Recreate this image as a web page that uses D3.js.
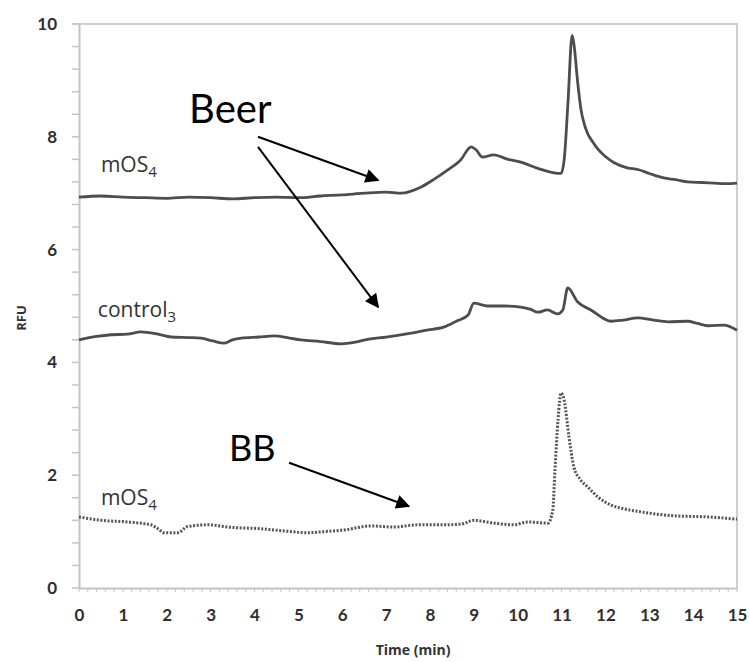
<!DOCTYPE html>
<html>
<head>
<meta charset="utf-8">
<script src="https://cdn.jsdelivr.net/npm/d3@7"></script>
<style>
  body { margin: 0; background: #fff; }
  svg { display: block; }
</style>
</head>
<body>
<svg id="chart"></svg>
<script>
// trace data (time in min, RFU)
var beerMosTime = [0,0.5,1,1.5,2,2.5,3,3.5,4,4.5,5,5.5,6,6.5,7,7.34,7.8,8.1,8.4,8.7,8.94,9.05,9.2,9.45,9.78,10.07,10.46,10.83,10.99,11.06,11.15,11.24,11.28,11.37,11.44,11.52,11.6,11.72,11.83,12.0,12.2,12.5,12.74,13.0,13.33,13.6,13.88,14.2,14.47,14.75,15];
var beerMosRfu  = [6.93,6.95,6.93,6.92,6.91,6.93,6.92,6.9,6.92,6.93,6.92,6.95,6.97,7.0,7.02,7.0,7.11,7.25,7.41,7.59,7.82,7.77,7.64,7.68,7.6,7.55,7.44,7.36,7.35,7.59,8.65,9.8,9.66,8.95,8.5,8.22,8.05,7.9,7.78,7.65,7.54,7.45,7.42,7.35,7.27,7.24,7.2,7.19,7.18,7.17,7.18];

var controlTime = [0,0.4,0.73,1.1,1.41,1.8,2.1,2.5,2.78,3.05,3.3,3.5,3.7,4.1,4.45,4.8,5.06,5.5,5.97,6.3,6.58,7.0,7.57,7.9,8.33,8.6,8.87,9.0,9.32,9.69,10.07,10.3,10.46,10.68,10.91,11.03,11.14,11.37,11.67,12.13,12.4,12.74,13.1,13.43,13.88,14.1,14.34,14.7,15];
var controlRfu  = [4.4,4.46,4.49,4.5,4.54,4.5,4.45,4.44,4.43,4.38,4.34,4.4,4.43,4.45,4.47,4.43,4.4,4.37,4.33,4.36,4.41,4.45,4.52,4.57,4.63,4.73,4.84,5.05,5.0,5.0,4.98,4.94,4.89,4.93,4.86,4.93,5.32,5.07,4.93,4.73,4.75,4.79,4.75,4.72,4.73,4.69,4.65,4.66,4.57];

var bbMosTime = [0,0.5,1.1,1.64,1.8,1.94,2.25,2.48,2.94,3.4,4.15,4.7,5.2,5.6,6.05,6.66,7.18,7.72,8.2,8.7,9.0,9.46,9.92,10.23,10.69,10.8,10.85,10.92,10.99,11.06,11.17,11.28,11.42,11.6,11.85,12.13,12.45,12.81,13.56,14.34,15];
var bbMosRfu  = [1.26,1.2,1.17,1.12,1.05,0.98,0.98,1.09,1.12,1.08,1.05,1.01,0.98,1.0,1.03,1.1,1.08,1.12,1.12,1.13,1.2,1.15,1.12,1.17,1.15,1.38,2.09,2.98,3.46,3.33,2.68,2.15,1.93,1.79,1.6,1.47,1.4,1.35,1.28,1.26,1.22];

var xTicks = [0,1,2,3,4,5,6,7,8,9,10,11,12,13,14,15];
var yTicks = [0,2,4,6,8,10];

// set the dimensions and margins of the graph
var margin = {top: 24, right: 13, bottom: 74, left: 79},
    width = 750 - margin.left - margin.right,
    height = 662 - margin.top - margin.bottom;

var svg = d3.select("#chart")
    .attr("width", 750)
    .attr("height", 662)
  .append("g")
    .attr("transform", "translate(" + margin.left + "," + margin.top + ")");

var x = d3.scaleLinear().domain([0, 15]).range([0, width]);
var y = d3.scaleLinear().domain([0, 10]).range([height, 0]);

// arrow head
svg.append("defs").append("marker")
    .attr("id", "head")
    .attr("viewBox", "0 0 10 10")
    .attr("refX", 9).attr("refY", 5)
    .attr("markerWidth", 8).attr("markerHeight", 7)
    .attr("markerUnits", "strokeWidth")
    .attr("orient", "auto")
  .append("path")
    .attr("d", "M0,0L10,5L0,10z")
    .attr("fill", "#000");

// frame (top and right)
svg.append("path")
    .attr("d", "M-7,0H" + width + "V" + height)
    .attr("fill", "none")
    .attr("stroke", "#d0d0d0")
    .attr("stroke-width", 2);

// minor ticks
svg.append("g")
  .selectAll("line")
  .data(d3.range(0, 10.01, 0.4))
  .enter().append("line")
    .attr("x1", -7).attr("x2", 0)
    .attr("y1", function(d) { return y(d); })
    .attr("y2", function(d) { return y(d); })
    .attr("stroke", "#c4c4c4").attr("stroke-width", 1.5);

svg.append("g")
  .selectAll("line")
  .data(d3.range(0, 15.01, 0.2))
  .enter().append("line")
    .attr("x1", function(d) { return x(d); })
    .attr("x2", function(d) { return x(d); })
    .attr("y1", height).attr("y2", height + 4)
    .attr("stroke", "#c4c4c4").attr("stroke-width", 1);

// Y axis
var yAxis = svg.append("g")
    .call(d3.axisLeft(y).tickValues(yTicks).tickSize(0).tickPadding(22));
yAxis.select(".domain").attr("stroke", "#c4c4c4").attr("stroke-width", 2);
yAxis.selectAll("text")
    .attr("font-family", "Lato, sans-serif")
    .attr("font-weight", "bold")
    .attr("font-size", 17)
    .attr("fill", "#2e2e2e");

// X axis
var xAxis = svg.append("g")
    .attr("transform", "translate(0," + height + ")")
    .call(d3.axisBottom(x).tickValues(xTicks).tickSize(0).tickPadding(21));
xAxis.select(".domain").attr("stroke", "#c4c4c4").attr("stroke-width", 2);
xAxis.selectAll("text")
    .attr("font-family", "Lato, sans-serif")
    .attr("font-weight", "bold")
    .attr("font-size", 17)
    .attr("fill", "#2e2e2e");

// axis titles
svg.append("text")
    .attr("x", width / 2 + 5)
    .attr("y", height + 67)
    .attr("text-anchor", "middle")
    .attr("font-family", "'Open Sans', sans-serif")
    .attr("font-weight", "bold")
    .attr("font-size", 14)
    .attr("fill", "#333")
    .text("Time (min)");

svg.append("text")
    .attr("transform", "translate(-53," + (height / 2 + 12) + ") rotate(-90)")
    .attr("text-anchor", "middle")
    .attr("font-family", "'Open Sans', sans-serif")
    .attr("font-weight", "bold")
    .attr("font-size", 13)
    .attr("fill", "#333")
    .text("RFU");

// traces
var line = d3.line()
    .curve(d3.curveMonotoneX)
    .x(function(d) { return x(d[0]); })
    .y(function(d) { return y(d[1]); });

function pairs(ts, vs) { return ts.map(function(t, i) { return [t, vs[i]]; }); }

svg.append("path")
    .datum(pairs(beerMosTime, beerMosRfu))
    .attr("d", line)
    .attr("fill", "none")
    .attr("stroke", "#4d4d4d")
    .attr("stroke-width", 2.8)
    .attr("stroke-linejoin", "round");

svg.append("path")
    .datum(pairs(controlTime, controlRfu))
    .attr("d", line)
    .attr("fill", "none")
    .attr("stroke", "#4d4d4d")
    .attr("stroke-width", 2.8)
    .attr("stroke-linejoin", "round");

svg.append("path")
    .datum(pairs(bbMosTime, bbMosRfu))
    .attr("d", line)
    .attr("fill", "none")
    .attr("stroke", "#555")
    .attr("stroke-width", 3)
    .attr("stroke-dasharray", "2,1.6");

// trace labels
var traceLabels = [
  {t: 0.5, v: 7.38, main: "mOS", sub: "4"},
  {t: 0.43, v: 4.8, main: "control", sub: "3"},
  {t: 0.5, v: 1.47, main: "mOS", sub: "4"}
];
var lab = svg.append("g").selectAll("text")
  .data(traceLabels)
  .enter().append("text")
    .attr("x", function(d) { return x(d.t); })
    .attr("y", function(d) { return y(d.v); })
    .attr("font-family", "'Open Sans', sans-serif")
    .attr("font-size", 21)
    .attr("fill", "#333");
lab.append("tspan").text(function(d) { return d.main; });
lab.append("tspan")
    .attr("dy", 5)
    .attr("font-size", 15)
    .text(function(d) { return d.sub; });

// annotations
var notes = [
  {t: 2.51, v: 8.24, text: "Beer", size: 40},
  {t: 3.42, v: 2.25, text: "BB", size: 36}
];
svg.append("g").selectAll("text")
  .data(notes)
  .enter().append("text")
    .attr("x", function(d) { return x(d.t); })
    .attr("y", function(d) { return y(d.v); })
    .attr("font-family", "Lato, sans-serif")
    .attr("font-size", function(d) { return d.size; })
    .attr("fill", "#000")
    .text(function(d) { return d.text; });

var arrows = [
  {t0: 4.08, v0: 8.0, t1: 6.82, v1: 7.23},
  {t0: 4.08, v0: 7.82, t1: 6.82, v1: 4.98},
  {t0: 4.79, v0: 2.22, t1: 7.52, v1: 1.45}
];
svg.append("g").selectAll("line")
  .data(arrows)
  .enter().append("line")
    .attr("x1", function(d) { return x(d.t0); })
    .attr("y1", function(d) { return y(d.v0); })
    .attr("x2", function(d) { return x(d.t1); })
    .attr("y2", function(d) { return y(d.v1); })
    .attr("stroke", "#000")
    .attr("stroke-width", 2)
    .attr("marker-end", "url(#head)");
</script>
</body>
</html>
